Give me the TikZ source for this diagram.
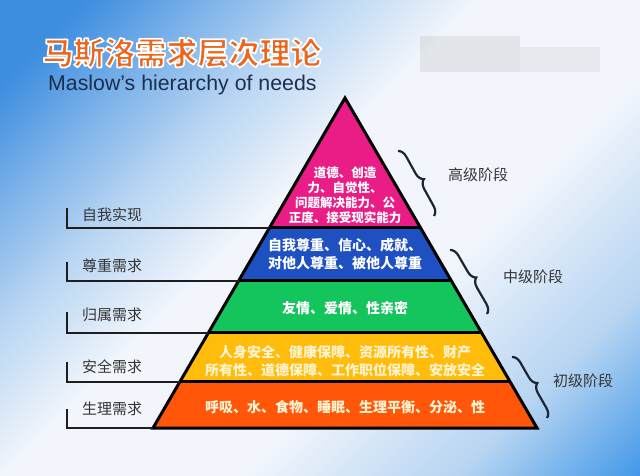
\documentclass[tikz,border=0pt]{standalone}
\usepackage{fontspec}
\setmainfont{Liberation Sans}
\newfontfamily\cjk{Noto Sans CJK SC}
\usetikzlibrary{calc,decorations.pathreplacing}

\definecolor{bgA}{HTML}{3E8EE0}
\definecolor{bgB}{HTML}{B6D4F2}
\definecolor{bgW}{HTML}{F2F6FC}
\definecolor{bgC}{HTML}{2B8BE6}
\definecolor{cPink}{HTML}{EA1C86}
\definecolor{cBlue}{HTML}{1E50C2}
\definecolor{cGreen}{HTML}{14C45C}
\definecolor{cYellow}{HTML}{FFBC0A}
\definecolor{cOrange}{HTML}{FF560A}
\definecolor{cTitle}{HTML}{EE661C}
\definecolor{cSub}{HTML}{1D2E4E}
\definecolor{cLab}{HTML}{353535}
\definecolor{cLine}{HTML}{1E1E1E}
\definecolor{cBrace}{HTML}{1D2433}
\definecolor{cYText}{HTML}{FFF4D2}

\pgfdeclarehorizontalshading{bgshade}{100bp}{color(0bp)=(bgA); color(20bp)=(bgA); color(35bp)=(bgB); color(45bp)=(bgW); color(60bp)=(bgW); color(74bp)=(bgB); color(88bp)=(bgC); color(100bp)=(bgC)}

\newcommand{\outlinetext}[1]{\special{pdf:literal direct 2 Tr 1.7 w 1 j 1 1 1 RG}#1\special{pdf:literal direct 0 Tr}}

\tikzset{
  edge/.style={draw=black, line width=3pt},
  leader/.style={draw=cLine, line width=2pt},
  laytext/.style={text=white, align=center, inner sep=0pt},
  lab/.style={text=cLab, anchor=west, inner sep=0pt, font=\cjk\fontsize{15}{18}\selectfont},
  stage/.style={text=cLab, inner sep=0pt, font=\cjk\fontsize{15}{18}\selectfont},
  bracestyle/.style={draw=cBrace, line width=2.2pt, decorate, decoration={brace, amplitude=9pt}},
  titlefont/.style={inner sep=0pt, font=\cjk\bfseries\fontsize{31}{34}\selectfont},
}

\begin{document}
\begin{tikzpicture}[x=1pt,y=-1pt]
\useasboundingbox (0,0) rectangle (640,476);
\shade[shading=bgshade, shading angle=-45] (0,0) rectangle (640,476);

% blurred patch
\fill[gray!55, opacity=0.28] (420,36) rectangle (520,72);
\fill[gray!55, opacity=0.22] (520,47) rectangle (600,72);

% title
\node[titlefont, text=cTitle] (title) at (182,53) {\outlinetext{马斯洛需求层次理论}};
\node[anchor=base west, inner sep=0pt, text=cSub, font=\fontsize{21.3}{24}\selectfont] (sub) at (48,91) {Maslow's hierarchy of needs};

% pyramid
\coordinate (A) at (345,98);
\coordinate (BL) at (153,428);
\coordinate (BR) at (537,428);
\coordinate (L1) at ($(A)!0.3939!(BL)$); \coordinate (R1) at ($(A)!0.3939!(BR)$);
\coordinate (L2) at ($(A)!0.5545!(BL)$); \coordinate (R2) at ($(A)!0.5545!(BR)$);
\coordinate (L3) at ($(A)!0.7121!(BL)$); \coordinate (R3) at ($(A)!0.7121!(BR)$);
\coordinate (L4) at ($(A)!0.8606!(BL)$); \coordinate (R4) at ($(A)!0.8606!(BR)$);

\fill[cPink] (A) -- (R1) -- (L1) -- cycle;
\fill[cBlue] (L1) -- (R1) -- (R2) -- (L2) -- cycle;
\fill[cGreen] (L2) -- (R2) -- (R3) -- (L3) -- cycle;
\fill[cYellow] (L3) -- (R3) -- (R4) -- (L4) -- cycle;
\fill[cOrange] (L4) -- (R4) -- (BR) -- (BL) -- cycle;
\draw[edge] (L1) -- (R1);
\draw[edge] (L2) -- (R2);
\draw[edge] (L3) -- (R3);
\draw[edge] (L4) -- (R4);
\draw[edge, line join=miter] (A) -- (BR) -- (BL) -- cycle;

% layer texts
\node[laytext, font=\cjk\bfseries\fontsize{12.5}{15}\selectfont] (tPink) at (345,195) {道德、创造\\力、自觉性、\\问题解决能力、公\\正度、接受现实能力};
\node[laytext, font=\cjk\bfseries\fontsize{14}{18}\selectfont] (tBlue) at (345,254) {自我尊重、信心、成就、\\对他人尊重、被他人尊重};
\node[laytext, font=\cjk\bfseries\fontsize{14}{18}\selectfont] (tGreen) at (345,308) {友情、爱情、性亲密};
\node[laytext, text=cYText, font=\cjk\bfseries\fontsize{14}{18}\selectfont] (tYellow) at (345,361) {人身安全、健康保障、资源所有性、财产\\所有性、道德保障、工作职位保障、安放安全};
\node[laytext, text=cYText, font=\cjk\bfseries\fontsize{14}{18}\selectfont] (tOrange) at (345,407) {呼吸、水、食物、睡眠、生理平衡、分泌、性};

% left labels
\coordinate (k1) at (67,208);
\coordinate (k2) at (67,262);
\coordinate (k3) at (67,312);
\coordinate (k4) at (67,362);
\coordinate (k5) at (67,409);
\draw[leader] (k1) |- (L1);
\draw[leader] (k2) |- (L2);
\draw[leader] (k3) |- (L3);
\draw[leader] (k4) |- (L4);
\draw[leader] (k5) |- (BL);
\node[lab] (l1) at (82,215) {自我实现};
\node[lab] (l2) at (82,266) {尊重需求};
\node[lab] (l3) at (82,315) {归属需求};
\node[lab] (l4) at (82,367) {安全需求};
\node[lab] (l5) at (82,409) {生理需求};

% right braces
\coordinate (b1t) at (398,151); \coordinate (b1b) at (434,216);
\coordinate (b2t) at (450,250); \coordinate (b2b) at (487,314);
\coordinate (b3t) at (512,357); \coordinate (b3b) at (547,418);
\draw[bracestyle] (b1t) -- (b1b);
\draw[bracestyle] (b2t) -- (b2b);
\draw[bracestyle] (b3t) -- (b3b);
\node[stage] (s1) at (478,175) {高级阶段};
\node[stage] (s2) at (533,277) {中级阶段};
\node[stage] (s3) at (583,381) {初级阶段};
\end{tikzpicture}
\end{document}
